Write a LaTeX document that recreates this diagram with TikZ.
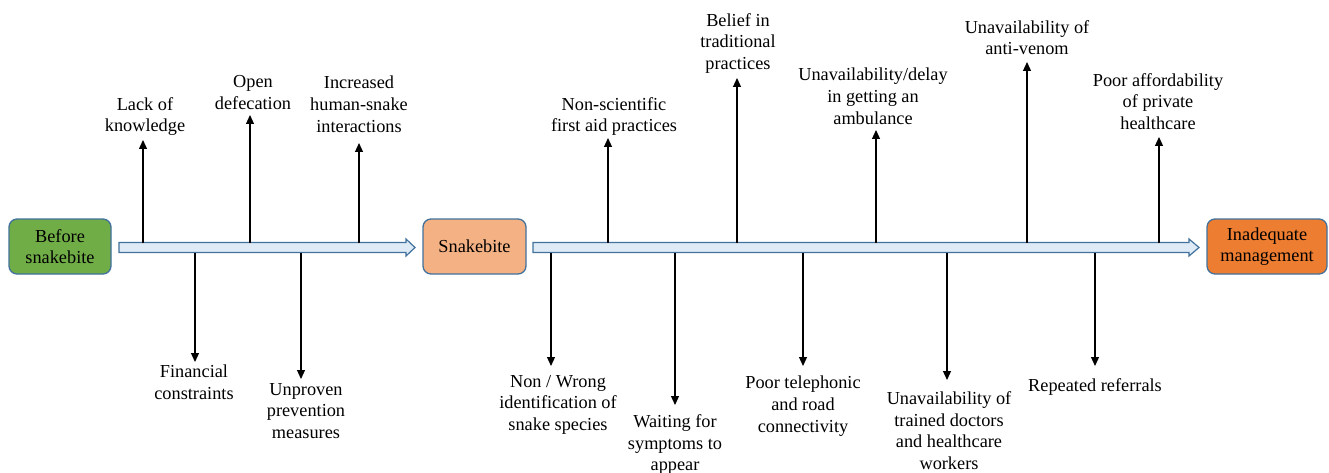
\documentclass[tikz,border=0pt]{standalone}
\usepackage{fontspec}
\setmainfont{Liberation Serif}
\usetikzlibrary{arrows.meta}
\definecolor{edgeblue}{HTML}{41719C}
\definecolor{spinefill}{HTML}{DEEBF7}
\definecolor{boxgreen}{HTML}{70AD47}
\definecolor{boxpeach}{HTML}{F4B183}
\definecolor{boxorange}{HTML}{ED7D31}
\begin{document}
\begin{tikzpicture}[x=1pt,y=-1pt,
  stagebox/.style={draw=edgeblue, line width=1.3pt, rounded corners=8pt,
    minimum height=55pt, align=center, inner sep=0pt,
    font=\fontsize{18.3}{21.7}\selectfont},
  causelabel/.style={align=center, inner sep=0pt, anchor=north,
    font=\fontsize{18.3}{21.7}\selectfont},
  cause/.style={-{Triangle[width=8pt,length=9pt]}, line width=1.2pt, black},
  spine/.style={draw=edgeblue, fill=spinefill, line width=1.2pt}]
\useasboundingbox (0,0) rectangle (1329,473);

% stage boxes
\node[stagebox, fill=boxgreen, minimum width=102pt] (before) at (60,246.5) {Before\\snakebite};
\node[stagebox, fill=boxpeach, minimum width=103pt] (bite) at (474.5,246.5) {Snakebite};
\node[stagebox, fill=boxorange, minimum width=120pt] (manage) at (1267,246.5) {Inadequate\\management};

% spines (block arrows)
\path[spine] (119,242.5) -- (406,242.5) -- (406,239) -- (415,247.5)
  -- (406,256) -- (406,252.5) -- (119,252.5) -- cycle;
\path[spine] (533,242.5) -- (1189,242.5) -- (1189,239) -- (1199,247.5)
  -- (1189,256) -- (1189,252.5) -- (533,252.5) -- cycle;

% labels
\node[causelabel] (l1) at (145,97) {Lack of\\knowledge};
\node[causelabel] (l2) at (253,75) {Open\\defecation};
\node[causelabel] (l3) at (359,76) {Increased\\human-snake\\interactions};
\node[causelabel] (l4) at (614,97) {Non-scientific\\first aid practices};
\node[causelabel] (l5) at (738,13) {Belief in\\traditional\\practices};
\node[causelabel] (l6) at (873,68) {Unavailability/delay\\in getting an\\ambulance};
\node[causelabel] (l7) at (1027,20) {Unavailability of\\anti-venom};
\node[causelabel] (l8) at (1158,73) {Poor affordability\\of private\\healthcare};
\node[causelabel] (l9) at (194,365) {Financial\\constraints};
\node[causelabel] (l10) at (306,383) {Unproven\\prevention\\measures};
\node[causelabel] (l11) at (558,375) {Non / Wrong\\identification of\\snake species};
\node[causelabel] (l12) at (675,414.5) {Waiting for\\symptoms to\\appear};
\node[causelabel] (l13) at (803,376) {Poor telephonic\\and road\\connectivity};
\node[causelabel] (l14) at (949,391.5) {Unavailability of\\trained doctors\\and healthcare\\workers};
\node[causelabel] (l15) at (1095,378) {Repeated referrals};

% connector coordinates: spine side (s) and tip (t)
\coordinate (s1) at (143,242.5);  \coordinate (t1) at (143,140);
\coordinate (s2) at (250,242.5);  \coordinate (t2) at (250,115);
\coordinate (s3) at (359,242.5);  \coordinate (t3) at (359,143);
\coordinate (s4) at (608,242.5);  \coordinate (t4) at (608,138);
\coordinate (s5) at (737,242.5);  \coordinate (t5) at (737,78);
\coordinate (s6) at (876,242.5);  \coordinate (t6) at (876,130);
\coordinate (s7) at (1027,242.5); \coordinate (t7) at (1027,62);
\coordinate (s8) at (1159,242.5); \coordinate (t8) at (1159,137);
\coordinate (s9) at (195,252.5);  \coordinate (t9) at (195,362);
\coordinate (s10) at (301,252.5); \coordinate (t10) at (301,379);
\coordinate (s11) at (551,252.5); \coordinate (t11) at (551,366);
\coordinate (s12) at (675,252.5); \coordinate (t12) at (675,405);
\coordinate (s13) at (803,252.5); \coordinate (t13) at (803,366);
\coordinate (s14) at (947,252.5); \coordinate (t14) at (947,380);
\coordinate (s15) at (1095,252.5);\coordinate (t15) at (1095,366);

\foreach \i in {1,...,15} {\draw[cause] (s\i) -- (t\i);}
\end{tikzpicture}
\end{document}
